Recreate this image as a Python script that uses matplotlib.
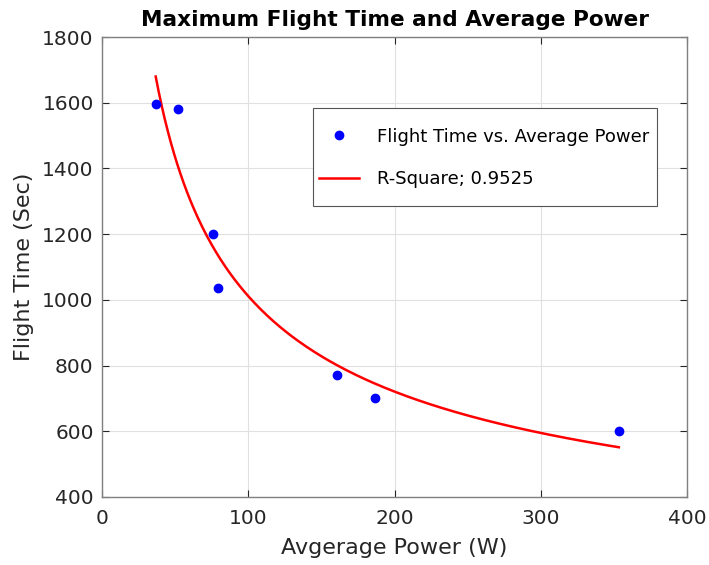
import numpy as np
import matplotlib
matplotlib.use("Agg")
import matplotlib.pyplot as plt
from matplotlib.patches import Rectangle

# Data
power_w = [36.7, 51.7, 75.6, 79.5, 160.6, 186.6, 353.4]
flight_time_s = [1595, 1580, 1200, 1035, 772, 702, 600]
x_ticks = [0, 100, 200, 300, 400]
y_ticks = [400, 600, 800, 1000, 1200, 1400, 1600, 1800]
title = "Maximum Flight Time and Average Power"
xlabel = "Avgerage Power (W)"
ylabel = "Flight Time (Sec)"
legend_labels = ["Flight Time vs. Average Power", "R-Square; 0.9525"]

# Power-law fit (a*x^b + c) of the data, least squares via grid over b
x = np.array(power_w, float)
y = np.array(flight_time_s, float)
best = None
for b in np.linspace(-3, -0.05, 2951):
    A = np.column_stack([x ** b, np.ones_like(x)])
    coef, *_ = np.linalg.lstsq(A, y, rcond=None)
    sse = np.sum((A @ coef - y) ** 2)
    if best is None or sse < best[0]:
        best = (sse, b, coef)
_, fb, (fa, fc) = best
xf = np.linspace(x.min(), x.max(), 300)
yf = fa * xf ** fb + fc

plt.rcParams['font.family'] = ['DejaVu Sans']
fig = plt.figure(figsize=(7.09, 5.65), dpi=100)
ax = fig.add_axes([0.1439, 0.1204, 0.8251, 0.8141])

ax.plot(x, y, 'o', color='#0000ff', markersize=6, label=legend_labels[0], zorder=3)
ax.plot(xf, yf, '-', color='#ff0000', linewidth=1.8, label=legend_labels[1], zorder=2)

ax.set_xlim(0, 400)
ax.set_ylim(400, 1800)
ax.set_xticks(x_ticks)
ax.set_yticks(y_ticks)
ax.grid(True, color='#e0e0e0', linewidth=0.8)
ax.set_axisbelow(True)
ax.tick_params(direction='in', top=True, right=True, length=5, width=0.8,
               colors='#262626', labelsize=14.5)
ax.tick_params(axis='x', pad=9)
ax.tick_params(axis='y', pad=6)
for s in ax.spines.values():
    s.set_color('#808080')
    s.set_linewidth(1.0)

ax.set_title(title, fontsize=15.6, fontweight='bold', pad=8)
ax.set_xlabel(xlabel, fontsize=16, color='#262626', labelpad=7)
ax.set_ylabel(ylabel, fontsize=16, color='#262626', labelpad=6)

# legend frame (MATLAB-style box)
box = Rectangle((0.3612, 0.6326), 0.9482 - 0.3612, 0.845 - 0.6326,
                transform=ax.transAxes, facecolor='white', edgecolor='#555555',
                linewidth=0.8, zorder=4)
ax.add_patch(box)
leg = ax.legend(loc='center left', bbox_to_anchor=(0.371, 0.737), fontsize=13,
                frameon=False, handlelength=2.2, handletextpad=1.0,
                labelspacing=1.37, borderpad=0, borderaxespad=0)
leg.set_zorder(5)

fig.savefig("out.png", dpi=100)
